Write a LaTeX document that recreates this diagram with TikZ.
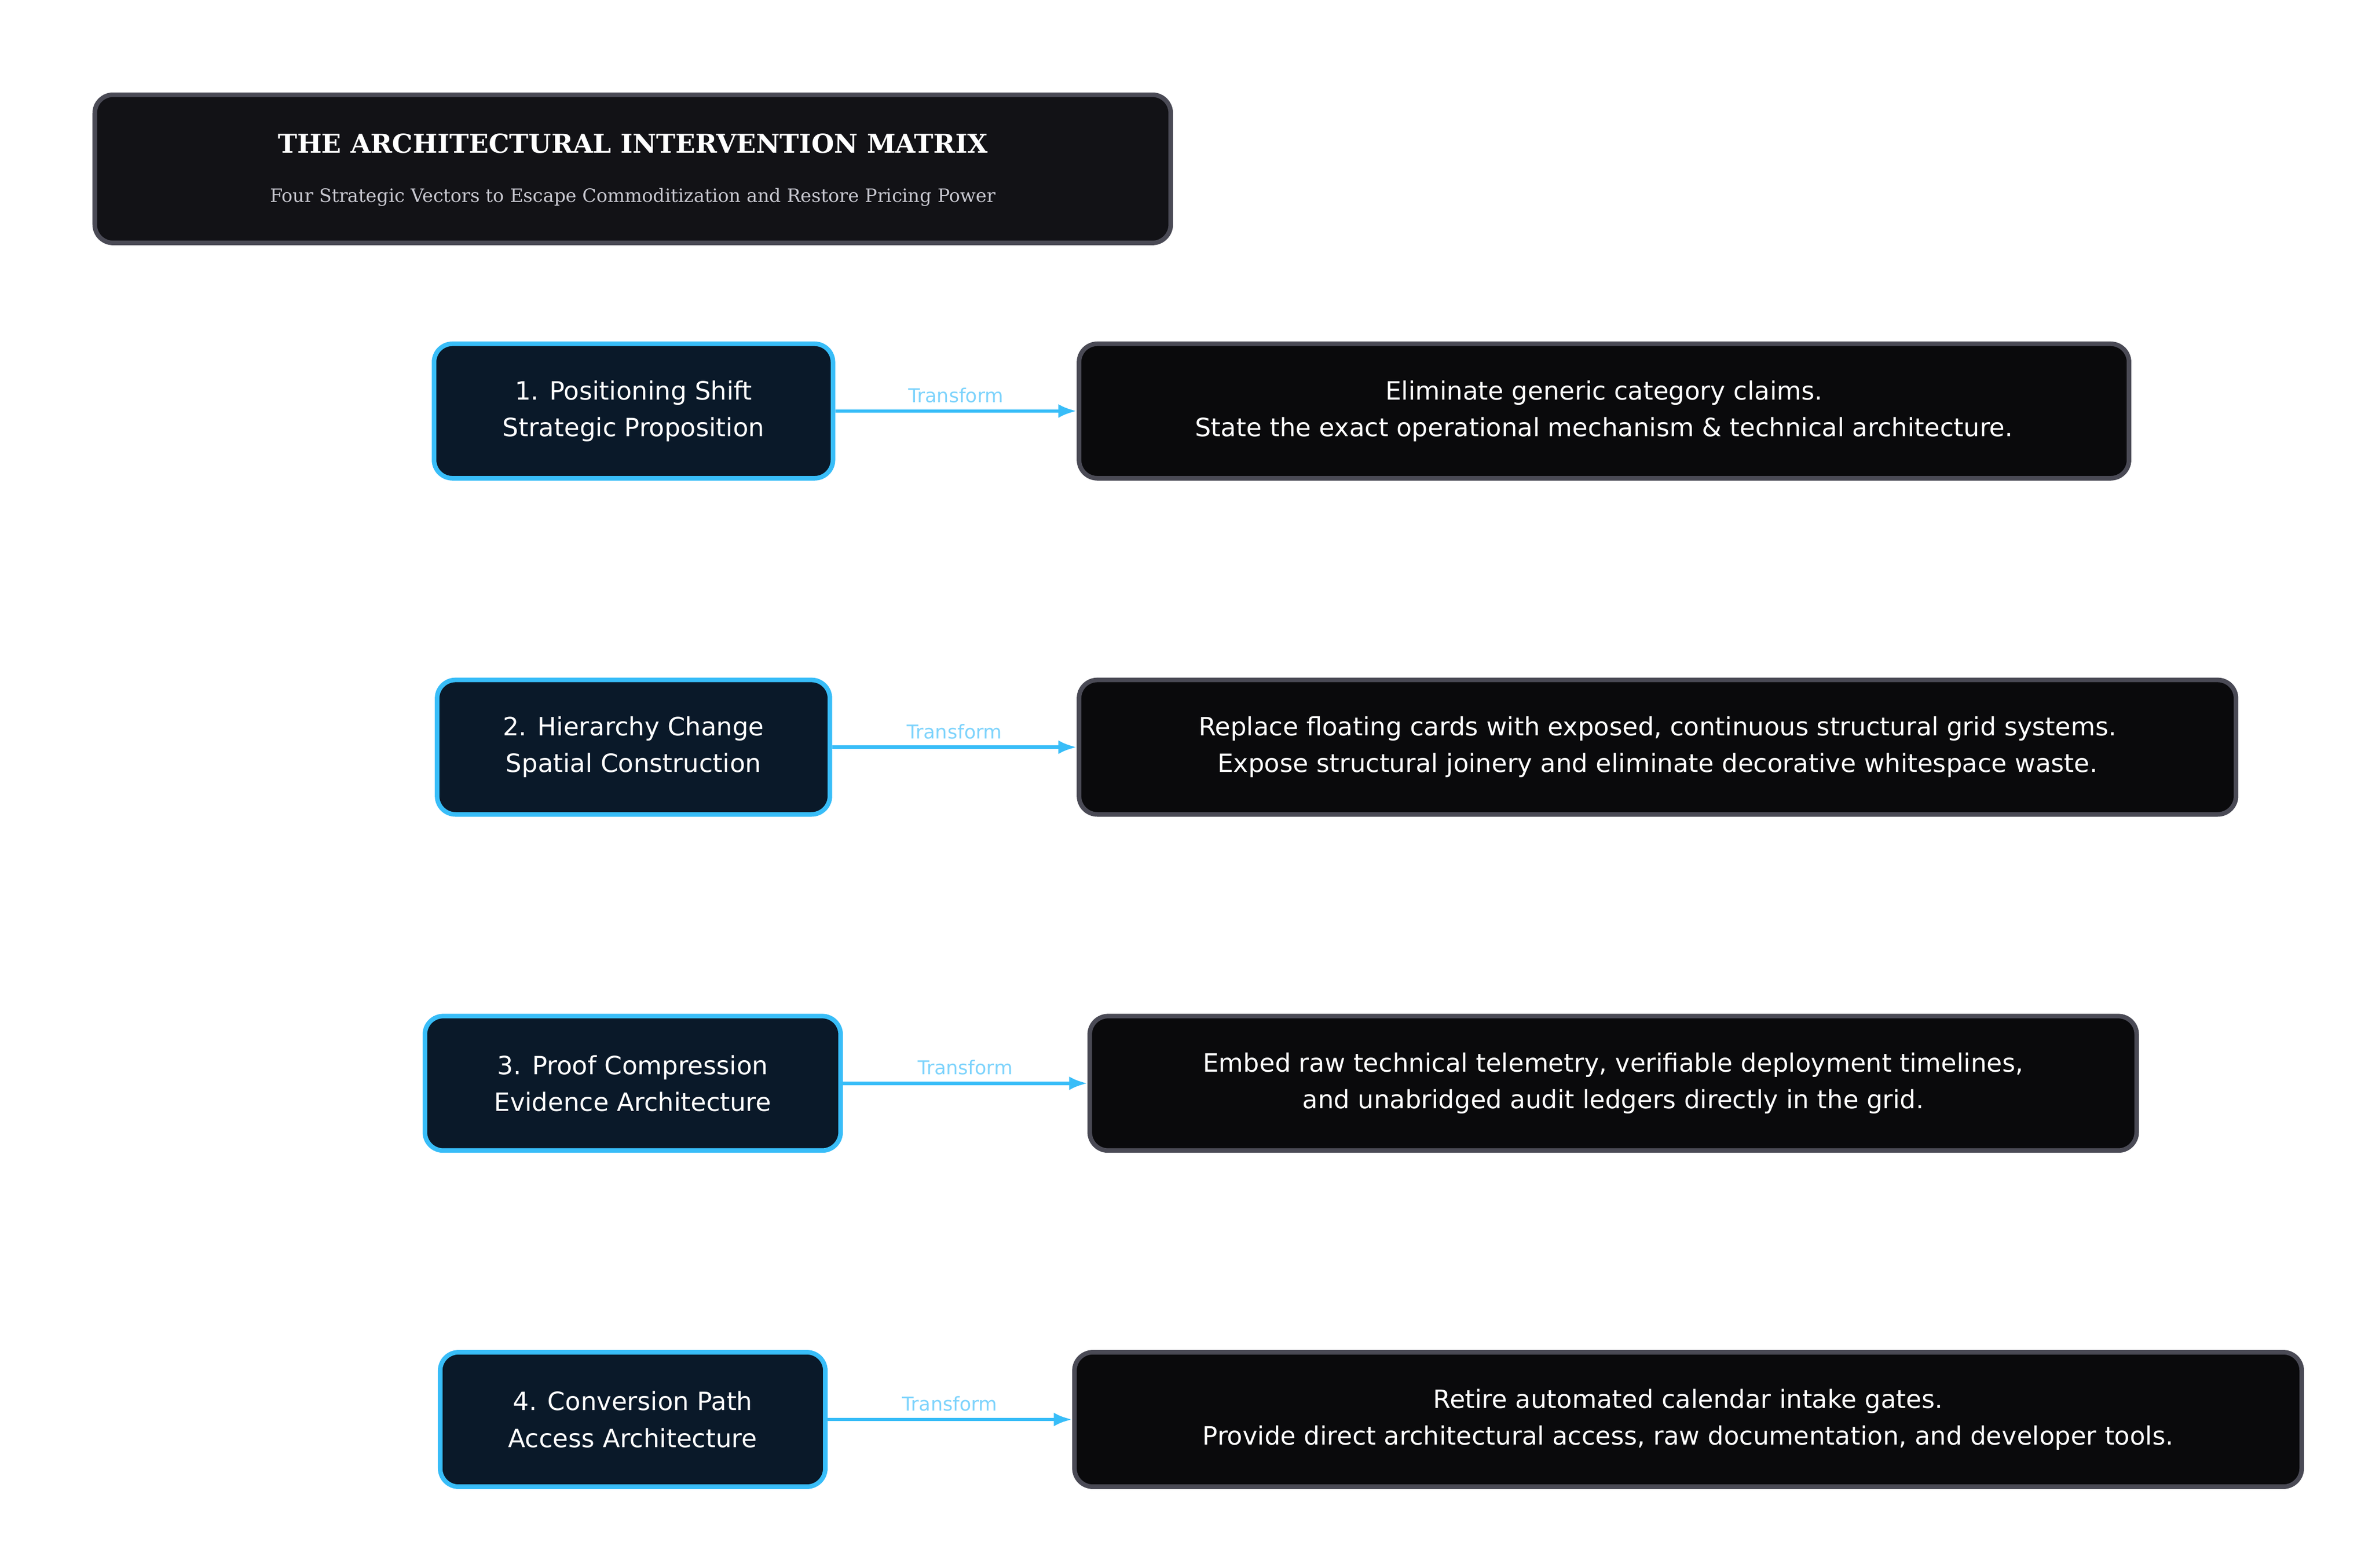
\documentclass[tikz,border=0pt]{standalone}
\usepackage{fontspec}
\setmainfont{DejaVu Sans}
\newfontfamily\serifx{DejaVu Serif}
\usetikzlibrary{arrows.meta}
\definecolor{lfill}{HTML}{0A1929}
\definecolor{lbord}{HTML}{38BDF8}
\definecolor{rfill}{HTML}{0A0A0C}
\definecolor{rbord}{HTML}{4A4A55}
\definecolor{tfill}{HTML}{121216}
\definecolor{tlab}{HTML}{7DD3FC}
\definecolor{subg}{HTML}{C8C8D0}
\begin{document}
\begin{tikzpicture}[x=1pt,y=-1pt,
 box/.style={rounded corners=12pt,line width=3pt,inner sep=0pt,align=center,text=white,font=\fontsize{16.5}{24}\selectfont,minimum height=88pt},
 lb/.style={box,fill=lfill,draw=lbord},
 rb/.style={box,fill=rfill,draw=rbord},
 arr/.style={-{Latex[length=12pt,width=9pt]},draw=lbord,line width=2.2pt},
 tl/.style={midway,above,text=tlab,font=\fontsize{12.5}{14}\selectfont,yshift=1pt}]
\useasboundingbox[fill=white] (0,0) rectangle (1552,1026);
\node[box,fill=tfill,draw=rbord,minimum width=704pt,minimum height=97pt] (title) at (414,110.5) {};
\node[text=white,font=\serifx\bfseries\fontsize{17}{20}\selectfont] (tt) at (414,94) {THE ARCHITECTURAL INTERVENTION MATRIX};
\node[text=subg,font=\serifx\fontsize{12}{14}\selectfont] (st) at (414,129) {Four Strategic Vectors to Escape Commoditization and Restore Pricing Power};

\node[lb,minimum width=261pt] (l1) at (414.5,269) {1. Positioning Shift\\Strategic Proposition};
\node[lb,minimum width=257pt] (l2) at (414.5,489) {2. Hierarchy Change\\Spatial Construction};
\node[lb,minimum width=272pt] (l3) at (414,709) {3. Proof Compression\\Evidence Architecture};
\node[lb,minimum width=252pt] (l4) at (414,929) {4. Conversion Path\\Access Architecture};

\node[rb,minimum width=687pt] (r1) at (1049.5,269) {Eliminate generic category claims.\\State the exact operational mechanism \& technical architecture.};
\node[rb,minimum width=757pt] (r2) at (1084.5,489) {Replace floating cards with exposed, continuous structural grid systems.\\Expose structural joinery and eliminate decorative whitespace waste.};
\node[rb,minimum width=685pt] (r3) at (1055.5,709) {Embed raw technical telemetry, verifiable deployment timelines,\\and unabridged audit ledgers directly in the grid.};
\node[rb,minimum width=803pt] (r4) at (1104.5,929) {Retire automated calendar intake gates.\\Provide direct architectural access, raw documentation, and developer tools.};

\draw[arr] (l1) -- node[tl]{Transform} (r1);
\draw[arr] (l2) -- node[tl]{Transform} (r2);
\draw[arr] (l3) -- node[tl]{Transform} (r3);
\draw[arr] (l4) -- node[tl]{Transform} (r4);
\end{tikzpicture}
\end{document}
